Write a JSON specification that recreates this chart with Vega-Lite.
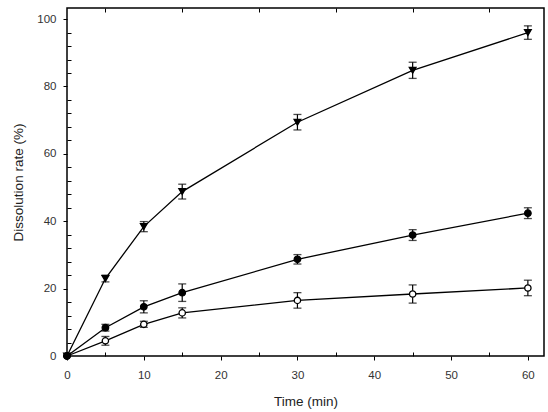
{
  "$schema": "https://vega.github.io/schema/vega-lite/v6.json",
  "width": 477,
  "height": 348,
  "autosize": {"type": "none"},
  "padding": {"left": 67, "top": 8, "right": 4, "bottom": 56},
  "background": "white",
  "config": {
    "view": {"stroke": "#000", "strokeWidth": 1.5},
    "font": "Liberation Sans",
    "axis": {
      "grid": false,
      "domain": false,
      "tickColor": "#000",
      "labelColor": "#333",
      "labelFont": "Liberation Sans",
      "titleFont": "Liberation Sans",
      "labelFontSize": 11.5,
      "titleFontSize": 13.5,
      "titleFontWeight": "normal",
      "titleColor": "#222",
      "labelFlush": false
    }
  },
  "data": {
    "values": [
      {"s": "open", "t": 0, "y": 0, "lo": 0, "hi": 0},
      {"s": "open", "t": 5, "y": 4.5, "lo": 3.2, "hi": 5.8},
      {"s": "open", "t": 10, "y": 9.4, "lo": 8.5, "hi": 10.3},
      {"s": "open", "t": 15, "y": 12.8, "lo": 11.3, "hi": 14.3},
      {"s": "open", "t": 30, "y": 16.5, "lo": 14.2, "hi": 18.8},
      {"s": "open", "t": 45, "y": 18.4, "lo": 15.7, "hi": 21.1},
      {"s": "open", "t": 60, "y": 20.2, "lo": 17.9, "hi": 22.5},
      {"s": "filled", "t": 0, "y": 0, "lo": 0, "hi": 0},
      {"s": "filled", "t": 5, "y": 8.4, "lo": 7.4, "hi": 9.4},
      {"s": "filled", "t": 10, "y": 14.6, "lo": 12.8, "hi": 16.4},
      {"s": "filled", "t": 15, "y": 18.8, "lo": 16.2, "hi": 21.4},
      {"s": "filled", "t": 30, "y": 28.7, "lo": 27.3, "hi": 30.1},
      {"s": "filled", "t": 45, "y": 35.9, "lo": 34.3, "hi": 37.5},
      {"s": "filled", "t": 60, "y": 42.4, "lo": 40.8, "hi": 44.0},
      {"s": "tri", "t": 0, "y": 0, "lo": 0, "hi": 0},
      {"s": "tri", "t": 5, "y": 23.0, "lo": 22.0, "hi": 24.0},
      {"s": "tri", "t": 10, "y": 38.4, "lo": 36.9, "hi": 39.9},
      {"s": "tri", "t": 15, "y": 48.8, "lo": 46.6, "hi": 51.0},
      {"s": "tri", "t": 30, "y": 69.4, "lo": 67.1, "hi": 71.7},
      {"s": "tri", "t": 45, "y": 84.8, "lo": 82.4, "hi": 87.2},
      {"s": "tri", "t": 60, "y": 96.0, "lo": 94.0, "hi": 98.0}
    ]
  },
  "resolve": {"axis": {"x": "independent", "y": "independent"}},
  "layer": [
    {
      "mark": {"type": "rule", "color": "#000", "strokeWidth": 1.2},
      "encoding": {
        "x": {"field": "t", "type": "quantitative", "scale": {"domain": [0, 62.1], "nice": false, "zero": false},
          "axis": {"orient": "bottom", "values": [0, 10, 20, 30, 40, 50, 60], "tickSize": 4, "labelPadding": 9, "title": "Time (min)", "titlePadding": 14}},
        "y": {"field": "lo", "type": "quantitative", "scale": {"domain": [0, 103.3], "nice": false, "zero": false},
          "axis": {"orient": "left", "values": [0, 20, 40, 60, 80, 100], "tickSize": 4, "labelPadding": 7, "title": "Dissolution rate (%)", "titlePadding": 11}},
        "y2": {"field": "hi"}
      }
    },
    {
      "mark": {"type": "tick", "orient": "horizontal", "size": 8, "thickness": 1.3, "color": "#000"},
      "encoding": {
        "x": {"field": "t", "type": "quantitative",
          "axis": {"orient": "bottom", "values": [5, 15, 25, 35, 45, 55], "tickSize": -4, "labels": false, "title": null}},
        "y": {"field": "lo", "type": "quantitative",
          "axis": {"orient": "left", "values": [4, 8, 12, 16, 24, 28, 32, 36, 44, 48, 52, 56, 64, 68, 72, 76, 84, 88, 92, 96], "tickSize": -4, "labels": false, "title": null}}
      }
    },
    {
      "mark": {"type": "tick", "orient": "horizontal", "size": 8, "thickness": 1.3, "color": "#000"},
      "encoding": {
        "x": {"field": "t", "type": "quantitative",
          "axis": {"orient": "top", "values": [5, 15, 25, 35, 45, 55], "tickSize": -4, "labels": false, "title": null}},
        "y": {"field": "hi", "type": "quantitative", "axis": null}
      }
    },
    {
      "mark": {"type": "line", "color": "#000", "strokeWidth": 1.3},
      "encoding": {
        "x": {"field": "t", "type": "quantitative", "axis": null},
        "y": {"field": "y", "type": "quantitative", "axis": null},
        "detail": {"field": "s"},
        "order": {"field": "t"}
      }
    },
    {
      "mark": {"type": "point", "stroke": "#000", "strokeWidth": 1.3, "opacity": 1, "filled": false},
      "encoding": {
        "x": {"field": "t", "type": "quantitative", "axis": null},
        "y": {"field": "y", "type": "quantitative", "axis": null},
        "shape": {"field": "s", "type": "nominal", "scale": {"domain": ["open", "filled", "tri"], "range": ["circle", "circle", "triangle-down"]}, "legend": null},
        "fill": {"field": "s", "type": "nominal", "scale": {"domain": ["open", "filled", "tri"], "range": ["#fff", "#000", "#000"]}, "legend": null},
        "size": {"field": "s", "type": "nominal", "scale": {"domain": ["open", "filled", "tri"], "range": [40, 45, 55]}, "legend": null}
      }
    }
  ]
}
